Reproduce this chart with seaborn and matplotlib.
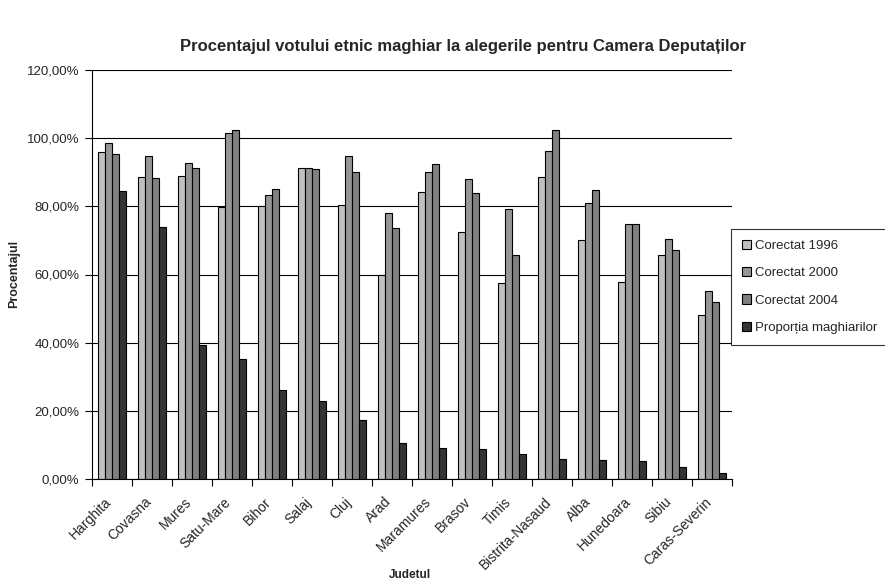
import numpy as np
import pandas as pd
import seaborn as sns
import matplotlib.pyplot as plt
from matplotlib.ticker import FuncFormatter, FixedLocator
import matplotlib.transforms as mtransforms

# --- date ---
judete = ['Harghita', 'Covasna', 'Mures', 'Satu-Mare', 'Bihor', 'Salaj', 'Cluj',
          'Arad', 'Maramures', 'Brasov', 'Timis', 'Bistrita-Nasaud', 'Alba',
          'Hunedoara', 'Sibiu', 'Caras-Severin']
corectat_1996 = [96.0, 88.5, 88.8, 79.8, 80.2, 91.2, 80.5, 59.8, 84.1, 72.5, 57.5, 88.6, 70.1, 57.9, 65.6, 48.0]
corectat_2000 = [98.7, 94.7, 92.8, 101.5, 83.3, 91.2, 94.8, 77.9, 90.2, 88.1, 79.3, 96.3, 81.0, 74.7, 70.3, 55.1]
corectat_2004 = [95.5, 88.3, 91.3, 102.5, 85.2, 90.9, 90.2, 73.6, 92.3, 83.8, 65.7, 102.5, 84.9, 74.9, 67.2, 52.0]
proportia = [84.5, 73.8, 39.3, 35.2, 26.0, 23.0, 17.4, 10.6, 9.0, 8.7, 7.4, 5.9, 5.5, 5.2, 3.6, 1.9]

serii = ['Corectat 1996', 'Corectat 2000', 'Corectat 2004', 'Proporția maghiarilor']
culori = ['#c0c0c0', '#969696', '#808080', '#333333']

df = pd.DataFrame({'Judetul': judete, serii[0]: corectat_1996, serii[1]: corectat_2000,
                   serii[2]: corectat_2004, serii[3]: proportia})
df_long = df.melt(id_vars='Judetul', var_name='Serie', value_name='Procent')

sns.set_style('white')
plt.rcParams['font.family'] = ['Liberation Sans', 'DejaVu Sans']

fig = plt.figure(figsize=(8.85, 5.85), dpi=100)
ax = fig.add_axes([92 / 885, 1 - 479 / 585, 640 / 885, 409 / 585])

sns.barplot(data=df_long, x='Judetul', y='Procent', hue='Serie', hue_order=serii,
            palette=culori, edgecolor='black', linewidth=0.8, width=0.72,
            saturation=1, ax=ax, legend=True)

ax.set_ylim(0, 120)
ax.set_xlim(-0.5, len(judete) - 0.5)
ax.set_yticks(np.arange(0, 121, 20))
ax.yaxis.set_major_formatter(FuncFormatter(lambda v, p: f'{v:.2f}%'.replace('.', ',')))
ax.yaxis.grid(True, color='black', linewidth=0.8)
ax.set_axisbelow(True)

for s in ['top', 'right']:
    ax.spines[s].set_visible(False)
for s in ['left', 'bottom']:
    ax.spines[s].set_color('black')
    ax.spines[s].set_linewidth(0.8)

# tick-uri intre categorii, etichete in centru
ax.xaxis.set_minor_locator(FixedLocator(np.arange(-0.5, len(judete), 1)))
ax.tick_params(axis='x', which='major', length=0, pad=2)
ax.tick_params(axis='x', which='minor', length=5, width=0.8, color='black', direction='out', bottom=True)
ax.tick_params(axis='y', which='major', length=5, width=0.8, color='black', direction='out', left=True,
               labelsize=9.5, pad=4)
ax.set_xticks(range(len(judete)))
ax.set_xticklabels(judete, rotation=45, ha='right', rotation_mode='anchor', fontsize=10)
offset = mtransforms.ScaledTranslation(-8 / 100, -13 / 100, fig.dpi_scale_trans)
for lbl in ax.get_xticklabels():
    lbl.set_transform(lbl.get_transform() + offset)

ax.set_xlabel('')
ax.set_ylabel('')
fig.text(410 / 885, 1 - 575 / 585, 'Judetul', ha='center', va='center', fontsize=8.5, fontweight='bold')
fig.text(14 / 885, 1 - 274 / 585, 'Procentajul', ha='center', va='center', rotation=90,
         fontsize=9, fontweight='bold')
fig.text(463 / 885, 1 - 47 / 585, 'Procentajul votului etnic maghiar la alegerile pentru Camera Deputaților',
         ha='center', va='center', fontsize=12, fontweight='bold')

handles, labels = ax.get_legend_handles_labels()
ax.get_legend().remove()
leg = fig.legend(handles, labels, loc='upper left', bbox_to_anchor=(731 / 885, 1 - 229 / 585),
                 frameon=True, fancybox=False, edgecolor='black', fontsize=9.5,
                 handlelength=0.7, handleheight=0.7, handletextpad=0.3,
                 labelspacing=1.15, borderpad=0.8, borderaxespad=0)
leg.get_frame().set_linewidth(0.8)

fig.savefig('out.png', dpi=100)
